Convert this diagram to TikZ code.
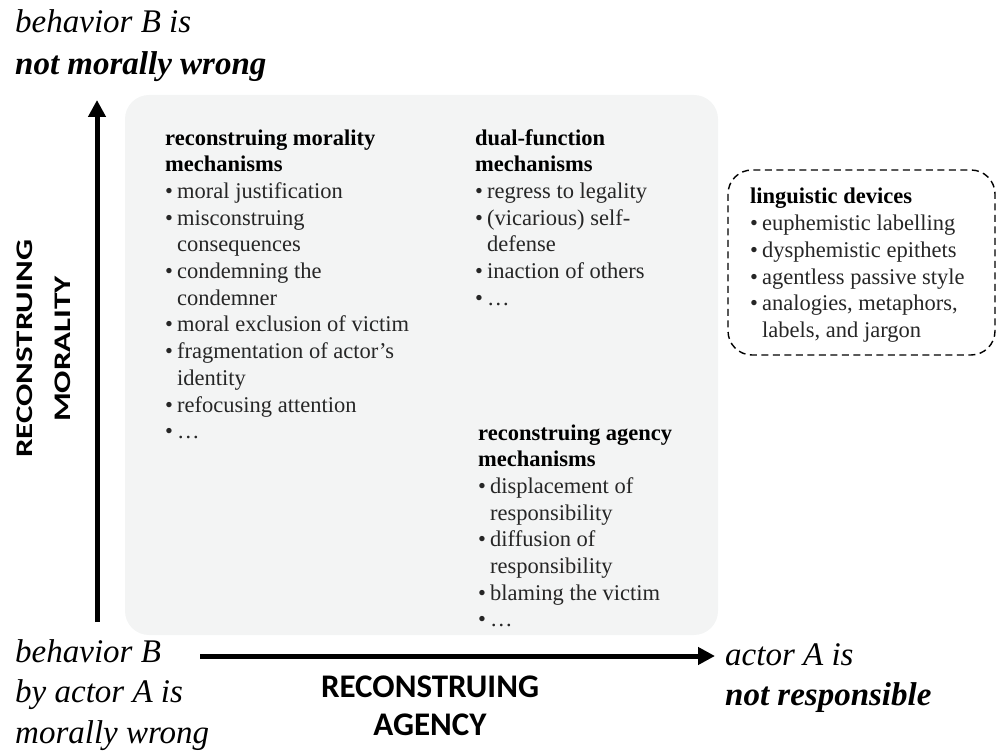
\documentclass[tikz,border=0pt]{standalone}
\usepackage{fontspec}
\setmainfont{Liberation Serif}
\newfontfamily\calibfont{Carlito}
\usepackage{xcolor}
\usepackage{tikz}
\usetikzlibrary{arrows.meta}
\usetikzlibrary{positioning}

\definecolor{panelgray}{RGB}{243,244,244}
\definecolor{listgray}{RGB}{38,38,38}
\newcommand{\bul}{\makebox[12pt][l]{\textbullet}}
\newcommand{\ind}{\hspace*{12pt}}
\newcommand{\hd}[1]{\textcolor{black}{\bfseries #1}}

\begin{document}
\begin{tikzpicture}[x=1pt,y=-1pt,
  listtxt/.style={anchor=base west,inner sep=0pt,align=left,text=listgray,
    font=\fontsize{22.5}{26.7}\selectfont},
  endlbl/.style={anchor=base west,inner sep=0pt,align=left,
    font=\fontsize{33}{41}\selectfont\itshape},
  axislbl/.style={inner sep=0pt,align=center,
    font=\calibfont\bfseries\fontsize{33}{38}\selectfont},
  axisarrow/.style={line width=5pt,-{Triangle[width=17pt,length=17pt]}}]
  \useasboundingbox (0,0) rectangle (997,751);

  %Shape: Rounded panel
  \fill [panelgray, rounded corners=24pt] (125,95) rectangle (718,635);
  %Shape: Dashed box
  \draw [line width=1.4pt, dash pattern={on 7pt off 4.5pt}, rounded corners=24pt]
    (728,170) rectangle (995,355);

  %Axis ends
  \coordinate (morlow) at (97,622);
  \coordinate (morhigh) at (97,100);
  \coordinate (aglow) at (200,656);
  \coordinate (aghigh) at (715,656);
  \draw [axisarrow] (morlow) -- (morhigh);
  \draw [axisarrow] (aglow) -- (aghigh);

  % Text Node (placed by the baseline of its last line)
  \node [endlbl, font=\fontsize{33}{42}\selectfont\itshape] (notwrong) at (15,75)
    {behavior B is\\\textbf{not morally wrong}};
  % Text Node
  \node [endlbl, font=\fontsize{33}{40.5}\selectfont\itshape] (wrong) at (15,743)
    {behavior B\\by actor A is\\morally wrong};
  % Text Node
  \node [endlbl, font=\fontsize{33}{40}\selectfont\itshape] (notresp) at (725,705)
    {actor A is\\\textbf{not responsible}};
  % Text Node
  \node [axislbl, rotate=90] (moraxis) at (44,349)
    {\scalebox{1}[0.72]{RECONSTRUING}\\\scalebox{1}[0.72]{MORALITY}};
  % Text Node
  \node [axislbl, anchor=base] (agaxis) at (430,735) {RECONSTRUING\\AGENCY};

  % Text Node
  \node [listtxt] (moralmech) at (165,438.7)
    {\hd{reconstruing morality}\\
     \hd{mechanisms}\\
     \bul moral justification\\
     \bul misconstruing\\
     \ind consequences\\
     \bul condemning the\\
     \ind condemner\\
     \bul moral exclusion of victim\\
     \bul fragmentation of actor's\\
     \ind identity\\
     \bul refocusing attention\\
     \bul \dots};
  % Text Node
  \node [listtxt] (dualmech) at (475,305.2)
    {\hd{dual-function}\\
     \hd{mechanisms}\\
     \bul regress to legality\\
     \bul (vicarious) self-\\
     \ind defense\\
     \bul inaction of others\\
     \bul \dots};
  % Text Node
  \node [listtxt] (agencymech) at (478,626.9)
    {\hd{reconstruing agency}\\
     \hd{mechanisms}\\
     \bul displacement of\\
     \ind responsibility\\
     \bul diffusion of\\
     \ind responsibility\\
     \bul blaming the victim\\
     \bul \dots};
  % Text Node
  \node [listtxt] (lingdev) at (750,337.5)
    {\hd{linguistic devices}\\
     \bul euphemistic labelling\\
     \bul dysphemistic epithets\\
     \bul agentless passive style\\
     \bul analogies, metaphors,\\
     \ind labels, and jargon};
\end{tikzpicture}
\end{document}
